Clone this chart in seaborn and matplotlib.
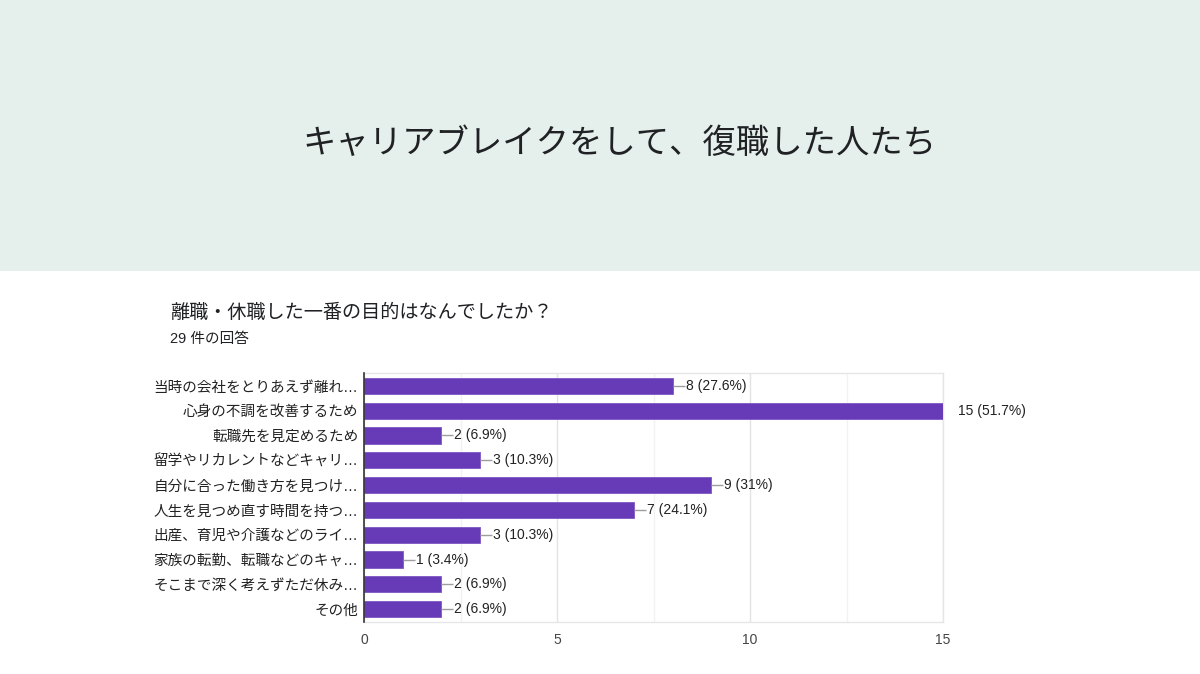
import matplotlib
matplotlib.use("Agg")
import matplotlib.pyplot as plt
import seaborn as sns
import pandas as pd
from matplotlib.ticker import MultipleLocator
from matplotlib.patches import Rectangle

page_title = "キャリアブレイクをして、復職した人たち"
question = "離職・休職した一番の目的はなんでしたか？"
responses = "29 件の回答"

categories = [
    "当時の会社をとりあえず離れ…",
    "心身の不調を改善するため",
    "転職先を見定めるため",
    "留学やリカレントなどキャリ…",
    "自分に合った働き方を見つけ…",
    "人生を見つめ直す時間を持つ…",
    "出産、育児や介護などのライ…",
    "家族の転勤、転職などのキャ…",
    "そこまで深く考えずただ休み…",
    "その他",
]
counts = [8, 15, 2, 3, 9, 7, 3, 1, 2, 2]
percents = ["27.6%", "51.7%", "6.9%", "10.3%", "31%", "24.1%", "10.3%", "3.4%", "6.9%", "6.9%"]
x_ticks = [0, 5, 10, 15]

sns.set_theme(style="white")
plt.rcParams['font.family'] = ['Liberation Sans', 'Noto Sans CJK JP', 'DejaVu Sans']
cjk = ['Noto Sans CJK JP', 'DejaVu Sans']

df = pd.DataFrame({"category": categories, "count": counts})

fig = plt.figure(figsize=(12, 6.74), dpi=100)
fig.patch.set_facecolor("white")
fig.patches.append(Rectangle((0, 1 - 271 / 674), 1, 271 / 674, transform=fig.transFigure,
                             facecolor="#e5efeb", edgecolor="none", zorder=0))
fig.text(619 / 1200, 1 - 143 / 674, page_title, ha="center", va="center",
         fontsize=24, color="#202124", family=cjk)
fig.text(170 / 1200, 1 - 313 / 674, question, ha="left", va="center",
         fontsize=13.8, color="#202124", family=cjk)
fig.text(170 / 1200, 1 - 339 / 674, responses, ha="left", va="center",
         fontsize=10.5, color="#202124")

ax = fig.add_axes([364 / 1200, 1 - 622 / 674, (943 - 364) / 1200, (622 - 373) / 674])
sns.barplot(data=df, x="count", y="category", orient="h", color="#673ab7",
            saturation=1, width=0.65, ax=ax, zorder=3, edgecolor="#7e57c2", linewidth=0.6)

ax.set_xlim(0, 15)
ax.set_ylim(len(categories) - 0.48, -0.52)
ax.set_xticks(x_ticks)
ax.xaxis.set_minor_locator(MultipleLocator(2.5))
ax.grid(axis="x", which="major", color="#e3e3e3", linewidth=1, zorder=0)
ax.grid(axis="x", which="minor", color="#f2f2f2", linewidth=1, zorder=0)
ax.set_axisbelow(True)
ax.set_xlabel("")
ax.set_ylabel("")
ax.tick_params(axis="x", which="both", length=0, pad=8, labelsize=10, labelcolor="#444444")
ax.tick_params(axis="y", length=0, pad=4, labelsize=10.5, labelcolor="#222222")
for s in ["top", "bottom", "right"]:
    ax.spines[s].set_color("#e6e6e6")
    ax.spines[s].set_linewidth(1)
ax.spines["left"].set_color("#333333")
ax.spines["left"].set_linewidth(1.2)
ax.spines["left"].set_zorder(5)

px_per_unit = (943 - 364) / 15.0
line_len = 12 / px_per_unit
gap = 1 / px_per_unit
for i, (c, p) in enumerate(zip(counts, percents)):
    label = f"{c} ({p})"
    if c >= 15:
        ax.text(c + 15 / px_per_unit, i, label, va="center", ha="left",
                fontsize=10, color="#222222", clip_on=False)
    else:
        ax.plot([c, c + line_len], [i, i], color="#9e9e9e", linewidth=1, zorder=4,
                solid_capstyle="butt")
        ax.text(c + line_len + gap, i, label, va="center", ha="left",
                fontsize=10, color="#222222", clip_on=False)

fig.savefig("out.png", dpi=100, facecolor=fig.get_facecolor())
